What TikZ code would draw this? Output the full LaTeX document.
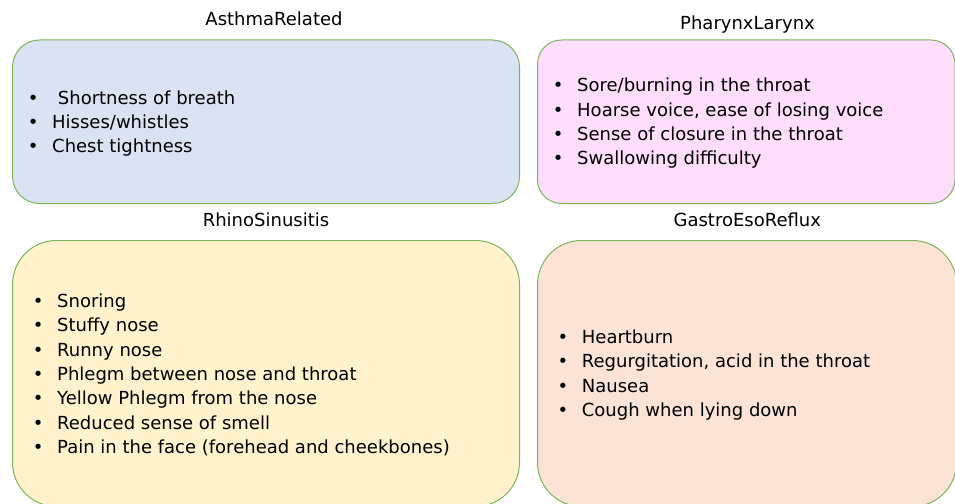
\documentclass[tikz,border=0pt]{standalone}
\usepackage{fontspec}
\setmainfont{DejaVu Sans}
\usepackage{xcolor}
\usetikzlibrary{positioning}

\definecolor{edgegreen}{HTML}{7DB35A}
\definecolor{asthmaC}{HTML}{DAE3F3}
\definecolor{pharynxC}{HTML}{FFDDFD}
\definecolor{rhinoC}{HTML}{FFF2CC}
\definecolor{gastroC}{HTML}{FBE4D6}

\newcommand{\itemfont}{\fontsize{18}{24.4}\selectfont}
\newcommand{\bulletmark}{\llap{\makebox[38pt]{\textbullet}}}

\tikzset{
  % --- symptom groups --------------------------------------------------------
  group/.style={rectangle,draw=edgegreen,line width=1pt,anchor=north west,
                inner sep=0pt},
  grouptitle/.style={anchor=base,font=\itemfont,inner sep=0pt},
  % --- bullet lines ----------------------------------------------------------
  symptom/.style={anchor=base west,font=\itemfont,inner sep=0pt},
}

\begin{document}
\begin{tikzpicture}[x=1pt, y=-1pt]
  \useasboundingbox (0,0) rectangle (955,503);

  \node[group,fill=asthmaC,rounded corners=27pt,
        minimum width=507pt,minimum height=163.5pt]  (asthma)  at (12,39.5)  {};
  \node[group,fill=pharynxC,rounded corners=24pt,
        minimum width=417.5pt,minimum height=163.5pt] (pharynx) at (537,39.5) {};
  \node[group,fill=rhinoC,rounded corners=44pt,
        minimum width=507pt,minimum height=266pt]    (rhino)   at (12,240)   {};
  \node[group,fill=gastroC,rounded corners=44pt,
        minimum width=419pt,minimum height=266pt]    (gastro)  at (537,240)  {};

  \node[grouptitle] (asthmaT)  at (274,26)    {AsthmaRelated};
  \node[grouptitle] (pharynxT) at (747.5,29.3) {PharynxLarynx};
  \node[grouptitle] (rhinoT)   at (266,226)   {RhinoSinusitis};
  \node[grouptitle] (gastroT)  at (747.3,226.7) {GastroEsoReflux};

  \foreach \s [count=\i] in {{\ Shortness of breath}, Hisses/whistles,
                             Chest tightness}
    \node[symptom] (asthma\i) at (52,{104+24.4*(\i-1)}) {\bulletmark\s};

  \foreach \s [count=\i] in {Sore/burning in the throat,
                             {Hoarse voice, ease of losing voice},
                             Sense of closure in the throat,
                             Swallowing difficulty}
    \node[symptom] (pharynx\i) at (577,{91.7+24.4*(\i-1)}) {\bulletmark\s};

  \foreach \s [count=\i] in {Snoring, Stuffy nose, Runny nose,
                             Phlegm between nose and throat,
                             Yellow Phlegm from the nose,
                             Reduced sense of smell,
                             Pain in the face (forehead and cheekbones)}
    \node[symptom] (rhino\i) at (57,{307.3+24.4*(\i-1)}) {\bulletmark\s};

  \foreach \s [count=\i] in {Heartburn,
                             {Regurgitation, acid in the throat},
                             Nausea, Cough when lying down}
    \node[symptom] (gastro\i) at (581.7,{343.5+24.3*(\i-1)}) {\bulletmark\s};
\end{tikzpicture}
\end{document}
